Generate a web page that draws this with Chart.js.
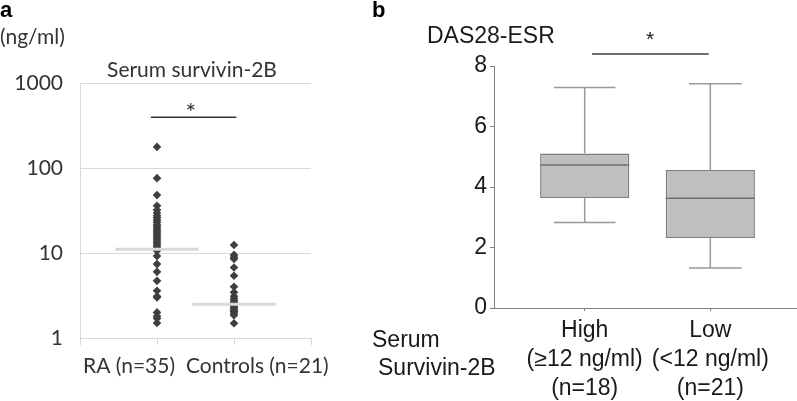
<!DOCTYPE html>
<html>
<head>
<meta charset="utf-8">
<script src="https://cdn.jsdelivr.net/npm/chart.js@4"></script>
<style>
  body { margin: 0; background: #fff; }
  #wrapA { position: absolute; left: 0; top: 0; width: 380px; height: 401px; }
  #wrapB { position: absolute; left: 360px; top: 0; width: 437px; height: 401px; }
</style>
</head>
<body>
<div id="wrapA"><canvas id="chartA"></canvas></div>
<div id="wrapB"><canvas id="chartB"></canvas></div>
<script>
// panel a : serum survivin-2B (ng/ml), log scale
var groupsA = ['RA (n=35)', 'Controls (n=21)'];
var raValues = [177, 76, 48, 36, 32, 29.5, 27.5, 26, 24.5, 23, 21.5, 20.3, 19.2, 18.2, 17.2,
                16.3, 15.4, 14.6, 13.8, 13.1, 12.4, 11.8, 11.2, 10.6, 9.2, 7.4, 6.0, 4.7, 3.6, 3.1,
                3.0, 2.0, 1.8, 1.7, 1.5];
var controlValues = [12.4, 9.5, 8.9, 8.5, 6.75, 5.4, 4.0, 3.45, 3.1, 2.9, 2.75, 2.6, 2.5, 2.4,
                     2.3, 2.2, 2.1, 2.05, 1.95, 1.85, 1.49];
var mediansA = [11.1, 2.5];
var yTicksA = [1, 10, 100, 1000];

// panel b : DAS28-ESR box plot
var groupsB = [['High', '(\u226512 ng/ml)', '(n=18)'], ['Low', '(<12 ng/ml)', '(n=21)']];
var whiskerLow = [2.83, 1.32];
var q1 = [3.64, 2.31];
var medianB = [4.73, 3.63];
var q3 = [5.11, 4.56];
var whiskerHigh = [7.29, 7.41];
var yTicksB = [0, 2, 4, 6, 8];

var fontA = 'Lato';
var fontB = '"Liberation Sans", Arial, sans-serif';

// ---------- chart a ----------
var datasetsA = [];
mediansA.forEach(function (m, i) {
  datasetsA.push({
    type: 'line',
    data: [{ x: i + 1 - 0.54, y: m }, { x: i + 1 + 0.54, y: m }],
    borderColor: '#d9d9d9',
    borderWidth: 3,
    pointRadius: 0
  });
});
[raValues, controlValues].forEach(function (vals, i) {
  datasetsA.push({
    type: 'scatter',
    data: vals.map(function (v) { return { x: i + 1, y: v }; }),
    pointStyle: 'rectRot',
    pointRadius: 4.3,
    backgroundColor: '#3f3f3f',
    borderWidth: 0
  });
});
// significance bar
datasetsA.push({
  type: 'line',
  data: [{ x: 0.92, y: 395 }, { x: 2.03, y: 395 }],
  borderColor: '#333',
  borderWidth: 1.5,
  pointRadius: 0,
  clip: false
});

var textA = {
  id: 'textA',
  afterDraw: function (chart) {
    var c = chart.ctx;
    var x = chart.scales.x;
    var y = chart.scales.y;
    c.save();
    c.fillStyle = '#000';
    c.font = 'bold 22px ' + fontB;
    c.textBaseline = 'alphabetic';
    c.fillText('a', 0, 17);
    c.fillStyle = '#333';
    c.font = '21px ' + fontA;
    c.fillText('(ng/ml)', 0, 44);
    c.textAlign = 'center';
    c.fillText('Serum survivin-2B', 192, 77);
    c.textAlign = 'left';
    c.fillText(groupsA[0], 83, 373);
    c.fillText(groupsA[1], 186, 373);
    c.textAlign = 'center';
    c.font = '25px ' + fontA;
    c.fillText('*', x.getPixelForValue(1.44), y.getPixelForValue(395) + 5);
    c.restore();
  }
};

new Chart(document.getElementById('chartA'), {
  type: 'scatter',
  data: { datasets: datasetsA },
  plugins: [textA],
  options: {
    responsive: true,
    maintainAspectRatio: false,
    animation: false,
    layout: { padding: { top: 83, bottom: 56, left: 0, right: 69 } },
    plugins: { legend: { display: false }, tooltip: { enabled: false } },
    scales: {
      x: {
        type: 'linear',
        min: 0,
        max: 3,
        afterBuildTicks: function (s) { s.ticks = [0, 1, 2, 3].map(function (v) { return { value: v }; }); },
        afterFit: function (s) { s.height = 7; },
        ticks: { display: false },
        grid: { drawOnChartArea: false, tickLength: 7, color: '#d9d9d9' },
        border: { color: '#d9d9d9' }
      },
      y: {
        type: 'logarithmic',
        min: 1,
        max: 1000,
        afterBuildTicks: function (s) { s.ticks = yTicksA.map(function (v) { return { value: v }; }); },
        afterFit: function (s) { s.width = 80; },
        ticks: {
          callback: function (v) { return String(v); },
          font: { family: fontA, size: 21 },
          color: '#333',
          padding: 17
        },
        grid: { color: '#d9d9d9', drawTicks: false },
        border: { color: '#d9d9d9' }
      }
    }
  }
});

// ---------- chart b ----------
var datasetsB = [{
  type: 'bar',
  order: 1,
  data: q1.map(function (v, i) { return { x: i + 1, y: [v, q3[i]] }; }),
  backgroundColor: '#bfbfbf',
  borderColor: '#7f7f7f',
  borderWidth: 1.5,
  borderSkipped: false,
  categoryPercentage: 1,
  barPercentage: 0.71
}];
function segment(pts, color) {
  datasetsB.push({
    type: 'line',
    order: 0,
    data: pts,
    borderColor: color,
    borderWidth: 1.5,
    pointRadius: 0,
    clip: false
  });
}
var capLeft = [0.245, 0.17];
var capRight = [0.245, 0.25];
q1.forEach(function (v, i) {
  var cx = i + 1;
  segment([{ x: cx, y: q3[i] }, { x: cx, y: whiskerHigh[i] }], '#999');
  segment([{ x: cx, y: whiskerLow[i] }, { x: cx, y: v }], '#999');
  segment([{ x: cx - capLeft[i], y: whiskerHigh[i] }, { x: cx + capRight[i], y: whiskerHigh[i] }], '#999');
  segment([{ x: cx - capLeft[i], y: whiskerLow[i] }, { x: cx + capRight[i], y: whiskerLow[i] }], '#999');
  segment([{ x: cx - 0.355, y: medianB[i] }, { x: cx + 0.355, y: medianB[i] }], '#707070');
});
// significance bar
segment([{ x: 1.058, y: 8.4 }, { x: 1.988, y: 8.4 }], '#404040');

var textB = {
  id: 'textB',
  afterDraw: function (chart) {
    var c = chart.ctx;
    var x = chart.scales.x;
    var y = chart.scales.y;
    c.save();
    c.fillStyle = '#000';
    c.font = 'bold 22px ' + fontB;
    c.fillText('b', 12, 17);
    c.fillStyle = '#1a1a1a';
    c.font = '23px ' + fontB;
    c.fillText('DAS28-ESR', 67, 43);
    c.fillText('Serum', 12, 347);
    c.fillText('Survivin-2B', 18, 375);
    c.textAlign = 'center';
    c.font = '21px ' + fontB;
    c.fillText('*', x.getPixelForValue(1.52), y.getPixelForValue(8.4) - 8);
    c.restore();
  }
};

new Chart(document.getElementById('chartB'), {
  type: 'bar',
  data: { datasets: datasetsB },
  plugins: [textB],
  options: {
    responsive: true,
    maintainAspectRatio: false,
    animation: false,
    layout: { padding: { top: 66, bottom: 0, left: 0, right: 0 } },
    plugins: { legend: { display: false }, tooltip: { enabled: false } },
    scales: {
      x: {
        type: 'linear',
        min: 0.278,
        max: 2.69,
        offset: false,
        afterBuildTicks: function (s) { s.ticks = [1, 2].map(function (v) { return { value: v }; }); },
        afterFit: function (s) { s.height = 93; },
        ticks: {
          callback: function (v, i) { return groupsB[i]; },
          font: { family: fontB, size: 23, lineHeight: 1.26 },
          color: '#1a1a1a',
          maxRotation: 0,
          autoSkip: false,
          padding: 5
        },
        grid: { drawOnChartArea: false, offset: false, tickLength: 3, color: '#808080' },
        border: { color: '#808080' }
      },
      y: {
        min: 0,
        max: 8,
        afterBuildTicks: function (s) { s.ticks = yTicksB.map(function (v) { return { value: v }; }); },
        afterFit: function (s) { s.width = 134; },
        ticks: {
          font: { family: fontB, size: 23 },
          color: '#1a1a1a',
          padding: 3
        },
        grid: { drawOnChartArea: false, tickLength: 4, color: '#808080' },
        border: { color: '#808080' }
      }
    }
  }
});
</script>
</body>
</html>
